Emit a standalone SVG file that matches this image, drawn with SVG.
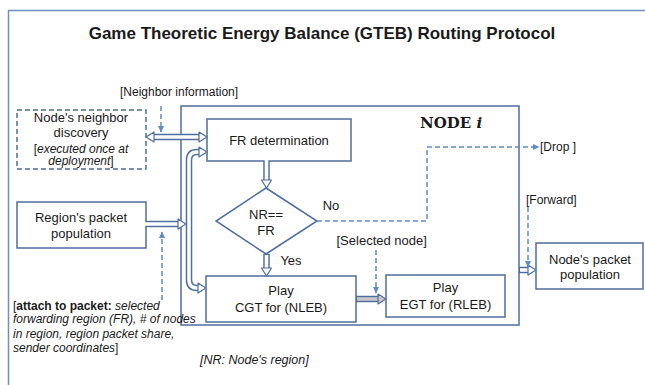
<svg xmlns="http://www.w3.org/2000/svg" width="645" height="385" viewBox="0 0 645 385">
<style>
text{font-family:"Liberation Sans",Arial,sans-serif;fill:#1a1a1a}
.box{fill:#fff;stroke:#4f6e9e;stroke-width:1.5}
.dbox{fill:#fff;stroke:#4f6e9e;stroke-width:1.5;stroke-dasharray:5 3}
.t13{font-size:13px;text-anchor:middle}
.lab{font-size:12px}
.it{font-style:italic}
.dbl-o{fill:none;stroke:#4f6e9e;stroke-width:6.5}
.dbl-i{fill:none;stroke:#fff;stroke-width:3.6}
.dbl-g{fill:none;stroke:#c8c8c8;stroke-width:3.6}
.dash{fill:none;stroke:#5d8ac8;stroke-width:1.5;stroke-dasharray:5 3}
</style>
<defs>
<marker id="hd" markerUnits="userSpaceOnUse" markerWidth="9" markerHeight="11" viewBox="0 0 9 11" refX="0.5" refY="5.5" orient="auto-start-reverse" overflow="visible">
<path d="M0.5,0.5 L8.5,5.5 L0.5,10.5 Z" fill="#fff" stroke="#4f6e9e" stroke-width="1.2" stroke-linejoin="round"/>
</marker>
<marker id="hdg" markerUnits="userSpaceOnUse" markerWidth="9" markerHeight="11" viewBox="0 0 9 11" refX="0.5" refY="5.5" orient="auto" overflow="visible">
<path d="M0.5,0.5 L8.5,5.5 L0.5,10.5 Z" fill="#c8c8c8" stroke="#4f6e9e" stroke-width="1.2" stroke-linejoin="round"/>
</marker>
<marker id="dh" markerUnits="userSpaceOnUse" markerWidth="7" markerHeight="7" viewBox="0 0 7 7" refX="6" refY="3.5" orient="auto" overflow="visible">
<path d="M0,0.5 L6.5,3.5 L0,6.5 Z" fill="#5d8ac8"/>
</marker>
</defs>

<rect x="8.5" y="10.5" width="660" height="400" fill="none" stroke="#6f8fbf" stroke-width="1.5"/>
<text x="322" y="39" font-size="17" font-weight="bold" text-anchor="middle">Game Theoretic Energy Balance (GTEB) Routing Protocol</text>

<g id="node-i">
<rect class="box" x="181" y="106" width="338" height="219"/>
<text x="451" y="128" font-size="15" font-weight="bold" text-anchor="middle" style="font-family:'DejaVu Serif',serif">NODE <tspan font-style="italic">i</tspan></text>
</g>

<g id="neighbor-discovery">
<rect class="dbox" x="17" y="110" width="129" height="59"/>
<text class="t13" x="81" y="122">Node's neighbor</text>
<text class="t13" x="81" y="137">discovery</text>
<text class="lab" x="81" y="152.5" text-anchor="middle">[<tspan class="it">executed once at</tspan></text>
<text class="lab" x="81" y="165" text-anchor="middle"><tspan class="it">deployment</tspan>]</text>
</g>

<g id="region-packet-population">
<rect class="box" x="17" y="202" width="129" height="46"/>
<text class="t13" x="81" y="221.5">Region's packet</text>
<text class="t13" x="81" y="237.5">population</text>
</g>

<g id="fr-determination">
<rect class="box" x="207" y="119" width="144" height="42"/>
<text class="t13" x="279" y="145">FR determination</text>
</g>

<g id="decision">
<polygon class="box" points="266,188 317,221 266,254 216,221"/>
<text class="t13" x="266" y="219">NR==</text>
<text class="t13" x="266" y="235">FR</text>
</g>

<g id="play-cgt">
<rect class="box" x="206" y="276" width="150" height="46"/>
<text class="t13" x="281" y="295">Play</text>
<text class="t13" x="281" y="311.5">CGT for (NLEB)</text>
</g>

<g id="play-egt">
<rect class="box" x="386" y="275" width="119" height="42"/>
<text class="t13" x="445.5" y="292">Play</text>
<text class="t13" x="445.5" y="309">EGT for (RLEB)</text>
</g>

<g id="node-packet-population">
<rect class="box" x="536" y="243" width="107" height="46"/>
<text class="t13" x="590" y="264">Node's packet</text>
<text class="t13" x="590" y="278.5">population</text>
</g>

<g id="connectors">
<path class="dbl-o" d="M154,137 L199,137"/>
<path class="dbl-i" d="M154,137 L199,137" marker-start="url(#hd)" marker-end="url(#hd)"/>
<path class="dbl-o" d="M199,152 L197,152 Q189,152 189,160 L189,280 Q189,288 197,288 L198,288"/>
<path class="dbl-i" d="M199,152 L197,152 Q189,152 189,160 L189,280 Q189,288 197,288 L198,288" marker-start="url(#hd)" marker-end="url(#hd)"/>
<path class="dbl-o" d="M146,224 L178,224"/>
<path class="dbl-i" d="M145,224 L178,224" marker-end="url(#hd)"/>
<path class="dbl-o" d="M266.5,161 L266.5,180"/>
<path class="dbl-i" d="M266.5,160 L266.5,180" marker-end="url(#hd)"/>
<path class="dbl-o" d="M266.5,254 L266.5,268"/>
<path class="dbl-i" d="M266.5,255 L266.5,268" marker-end="url(#hd)"/>
<path class="dbl-o" d="M356,299 L378,299"/>
<path class="dbl-g" d="M357,299 L378,299" marker-end="url(#hdg)"/>
<path class="dbl-o" d="M519,270 L528,270"/>
<path class="dbl-i" d="M520,270 L528,270" marker-end="url(#hd)"/>
<path class="dash" d="M161,106 L161,132" marker-end="url(#dh)"/>
<path class="dash" d="M162,300 L162,232" marker-end="url(#dh)"/>
<path class="dash" d="M317,221 L427,221 L427,147 L539,147" marker-end="url(#dh)"/>
<path class="dash" d="M376,250 L376,293" marker-end="url(#dh)"/>
<path class="dash" d="M528,207 L528,267" marker-end="url(#dh)"/>
</g>

<g id="labels">
<text class="lab" x="120" y="96">[Neighbor information]</text>
<text class="t13" x="331" y="209.5">No</text>
<text class="t13" x="291" y="265">Yes</text>
<text x="336.5" y="245" font-size="13px">[Selected node]</text>
<text class="lab" x="540" y="151">[Drop ]</text>
<text class="lab" x="526" y="204">[Forward]</text>
<text x="200" y="364" font-size="12.5px" font-style="italic">[NR: Node's region]</text>
<text font-size="12px">
<tspan x="13" y="309.5">[<tspan font-weight="bold">attach to packet:</tspan> <tspan class="it">selected</tspan></tspan>
<tspan x="13" y="323" class="it">forwarding region (FR), # of nodes</tspan>
<tspan x="13" y="337.5" class="it">in region, region packet share,</tspan>
<tspan x="13" y="352"><tspan class="it">sender coordinates</tspan>]</tspan>
</text>
</g>
</svg>
